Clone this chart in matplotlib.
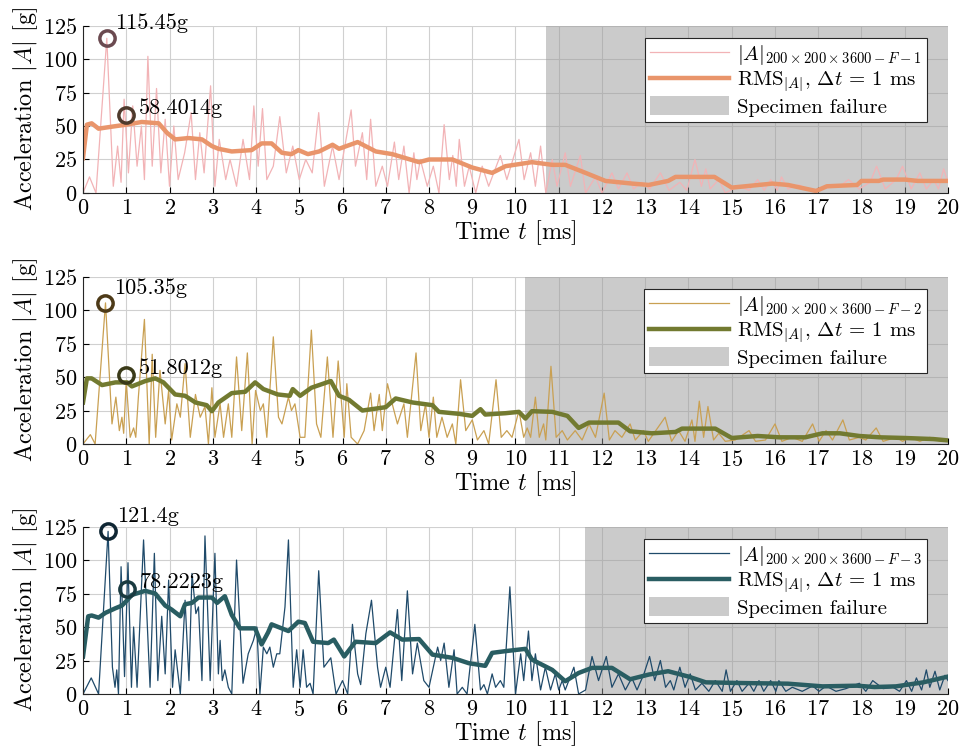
import numpy as np
import matplotlib
matplotlib.use("Agg")
import matplotlib.pyplot as plt
from matplotlib.patches import Patch
from matplotlib.lines import Line2D

plt.rcParams['font.family'] = 'serif'
plt.rcParams['font.serif'] = ['cmr10']
plt.rcParams['mathtext.fontset'] = 'cm'
plt.rcParams['axes.formatter.use_mathtext'] = True

# (t [ms], |A| [g])
raw1 = np.array([
    (0, 0), (0.15, 12), (0.3, 0), (0.55, 115.45), (0.7, 5), (0.8, 35), (0.88, 8), (0.95, 70), (1.05, 15),
    (1.15, 65), (1.25, 20), (1.35, 50), (1.42, 10), (1.5, 102), (1.6, 20), (1.7, 78), (1.8, 15), (1.9, 55),
    (2.0, 5), (2.1, 50), (2.2, 10), (2.35, 30), (2.5, 60), (2.6, 10), (2.7, 45), (2.8, 15), (2.95, 80),
    (3.05, 5), (3.15, 40), (3.3, 10), (3.4, 25), (3.55, 5), (3.7, 40), (3.85, 10), (3.95, 65), (4.05, 20),
    (4.15, 63), (4.25, 10), (4.4, 20), (4.55, 57), (4.7, 15), (4.85, 35), (5.0, 10), (5.15, 25), (5.3, 15),
    (5.45, 60), (5.58, 5), (5.77, 35), (5.92, 10), (6.2, 62), (6.3, 20), (6.46, 45), (6.56, 10), (6.65, 55),
    (6.77, 5), (6.92, 20), (7.04, 5), (7.2, 38), (7.3, 10), (7.42, 35), (7.54, 0), (7.65, 30), (7.72, 10),
    (7.8, 25), (7.96, 5), (8.1, 20), (8.23, 0), (8.35, 51), (8.47, 10), (8.55, 28), (8.63, 5), (8.7, 40),
    (8.82, 5), (8.93, 20), (9.08, 0), (9.23, 20), (9.38, 5), (9.65, 28), (9.8, 10), (10.08, 40), (10.2, 10),
    (10.35, 30), (10.46, 5), (10.58, 35), (10.7, 0), (10.85, 25), (10.96, 5), (11.15, 30), (11.27, 5),
    (11.5, 28), (11.62, 0), (11.85, 12), (12.0, 0), (12.23, 15), (12.38, 3), (12.58, 15), (12.73, 3),
    (12.92, 8), (13.1, 3), (13.35, 15), (13.55, 2), (13.8, 8), (13.96, 2), (14.15, 25), (14.3, 5),
    (14.4, 18), (14.5, 3), (14.7, 10), (14.85, 0), (15.15, 5), (15.4, 2), (15.6, 10), (15.75, 2), (15.9, 10),
    (16.05, 2), (16.15, 12), (16.3, 3), (16.55, 6), (16.85, 2), (17.0, 3), (17.5, 5), (17.7, 10), (17.95, 3),
    (18.2, 8), (18.35, 20), (18.55, 3), (18.8, 10), (18.95, 20), (19.15, 3), (19.35, 15), (19.5, 3),
    (19.67, 10), (19.78, 3), (19.9, 18), (20.0, 8)])
rms1 = np.array([
    (0, 26), (0.09, 51), (0.2, 52), (0.36, 48), (0.67, 49.5), (1.0, 51), (1.36, 53), (1.75, 52), (1.94, 45),
    (2.13, 40), (2.44, 41), (2.75, 40), (2.98, 35), (3.13, 33), (3.44, 31), (3.9, 32), (4.13, 37), (4.36, 37),
    (4.6, 30), (4.82, 29), (4.98, 32), (5.2, 29), (5.46, 31), (5.77, 36), (5.92, 33), (6.35, 38), (6.77, 31),
    (7.15, 29), (7.77, 23), (8.0, 25), (8.54, 25), (9.0, 19), (9.46, 15), (9.77, 20), (10.38, 23),
    (10.85, 21), (11.15, 21), (11.62, 15), (12.08, 9), (12.7, 7), (13.08, 6), (13.53, 9), (13.7, 12),
    (14.6, 12), (15.0, 4), (15.94, 7), (16.3, 6), (16.95, 1.5), (17.2, 5), (17.9, 6), (18.0, 9), (18.4, 9),
    (18.5, 10), (19.0, 10), (19.3, 9), (20.0, 9)])

raw2 = np.array([
    (0, 0), (0.17, 7), (0.28, 0), (0.52, 105.35), (0.67, 15), (0.76, 35), (0.84, 10), (0.9, 20), (0.94, 8),
    (1.0, 47), (1.09, 5), (1.17, 12), (1.22, 5), (1.28, 35), (1.42, 93), (1.53, 0), (1.6, 67), (1.68, 5),
    (1.78, 55), (1.9, 15), (1.98, 40), (2.05, 3), (2.17, 30), (2.25, 20), (2.36, 60), (2.48, 5), (2.6, 37),
    (2.71, 20), (2.82, 28), (2.9, 0), (2.98, 42), (3.05, 5), (3.17, 30), (3.25, 5), (3.36, 30), (3.44, 5),
    (3.55, 65), (3.67, 10), (3.8, 68), (3.91, 0), (3.99, 40), (4.1, 25), (4.17, 30), (4.25, 5), (4.4, 80),
    (4.52, 20), (4.6, 15), (4.75, 35), (4.82, 25), (4.9, 30), (5.02, 5), (5.13, 5), (5.28, 85), (5.4, 15),
    (5.5, 5), (5.65, 65), (5.78, 5), (5.9, 62), (6.04, 5), (6.1, 45), (6.2, 5), (6.35, 0), (6.5, 10),
    (6.65, 38), (6.73, 10), (6.85, 37), (6.92, 10), (7.04, 45), (7.15, 30), (7.27, 15), (7.42, 30), (7.5, 5),
    (7.7, 68), (7.81, 10), (7.92, 30), (8.0, 5), (8.1, 35), (8.18, 5), (8.3, 20), (8.42, 5), (8.54, 15),
    (8.62, 0), (8.73, 48), (8.85, 10), (9.0, 18), (9.12, 3), (9.27, 10), (9.38, 0), (9.55, 48), (9.67, 5),
    (9.8, 10), (9.92, 5), (10.08, 25), (10.19, 5), (10.27, 12), (10.35, 5), (10.46, 35), (10.55, 5),
    (10.65, 15), (10.7, 3), (10.82, 58), (10.94, 5), (11.08, 10), (11.2, 3), (11.38, 10), (11.54, 3),
    (11.7, 15), (11.85, 5), (12.05, 38), (12.17, 3), (12.3, 10), (12.46, 5), (12.65, 15), (12.77, 3),
    (12.96, 10), (13.07, 2), (13.46, 20), (13.61, 2), (13.77, 10), (13.92, 2), (14.08, 18), (14.15, 2),
    (14.25, 32), (14.35, 5), (14.45, 28), (14.58, 3), (14.7, 8), (14.85, 2), (15.08, 3), (15.4, 10),
    (15.55, 2), (15.78, 3), (16.0, 15), (16.16, 2), (16.4, 5), (16.63, 2), (16.87, 15), (17.02, 2),
    (17.18, 10), (17.33, 3), (17.57, 18), (17.72, 3), (17.95, 5), (18.1, 3), (18.34, 12), (18.5, 2),
    (18.8, 5), (18.95, 2), (19.12, 5), (19.35, 2), (19.58, 5), (19.82, 2), (20.0, 3)])
rms2 = np.array([
    (0, 31), (0.09, 49), (0.2, 49), (0.44, 44), (0.75, 46), (1.02, 46), (1.13, 43), (1.44, 47), (1.67, 49),
    (1.86, 46), (2.13, 37), (2.36, 36), (2.6, 31), (2.86, 29), (2.98, 24.5), (3.13, 31), (3.44, 38),
    (3.75, 39), (3.98, 46), (4.17, 41), (4.5, 37), (4.78, 36), (4.85, 41), (5.02, 36), (5.28, 42),
    (5.46, 44), (5.73, 47), (5.92, 36), (6.15, 33), (6.46, 25), (7.0, 27.5), (7.23, 34), (7.62, 31),
    (8.08, 29), (8.23, 24), (8.7, 22.5), (9.0, 21), (9.19, 26), (9.3, 22), (9.77, 23), (10.08, 24),
    (10.23, 19), (10.38, 24.5), (10.85, 24), (11.2, 21), (11.46, 12), (11.7, 16), (12.38, 16), (12.65, 9.5),
    (13.15, 8), (13.7, 9), (13.85, 11.5), (14.62, 11.5), (15.0, 4.5), (15.6, 6), (16.1, 5), (16.7, 5),
    (17.1, 8), (17.5, 8), (17.95, 6), (18.42, 5), (19.0, 4.5), (19.66, 3.7), (20.0, 2.7)])

raw3 = np.array([
    (0, 0), (0.19, 12), (0.36, 0), (0.58, 121.4), (0.68, 20), (0.74, 5), (0.78, 18), (0.82, 0), (0.88, 95),
    (0.96, 13), (1.04, 98), (1.12, 5), (1.17, 50), (1.25, 5), (1.4, 115), (1.55, 5), (1.65, 105), (1.73, 10),
    (1.82, 58), (1.9, 15), (1.98, 85), (2.07, 5), (2.13, 33), (2.25, 0), (2.36, 70), (2.45, 10), (2.52, 90),
    (2.61, 60), (2.67, 65), (2.75, 10), (2.82, 118), (2.94, 10), (3.05, 105), (3.13, 15), (3.17, 40),
    (3.22, 10), (3.28, 18), (3.36, 5), (3.44, 0), (3.55, 100), (3.7, 8), (3.82, 30), (3.94, 40), (4.02, 50),
    (4.09, 0), (4.17, 35), (4.25, 30), (4.32, 35), (4.4, 20), (4.48, 30), (4.55, 30), (4.67, 65),
    (4.75, 115), (4.86, 5), (4.94, 33), (5.02, 5), (5.09, 33), (5.17, 5), (5.25, 8), (5.32, 0), (5.45, 92),
    (5.57, 20), (5.73, 27), (5.85, 0), (6.0, 10), (6.12, 0), (6.23, 52), (6.35, 15), (6.42, 7), (6.54, 45),
    (6.67, 70), (6.81, 20), (6.88, 5), (7.0, 20), (7.1, 5), (7.27, 63), (7.37, 10), (7.5, 77), (7.62, 15),
    (7.73, 38), (7.88, 10), (8.0, 5), (8.2, 35), (8.27, 25), (8.35, 38), (8.46, 5), (8.58, 33), (8.65, 0),
    (8.77, 5), (8.88, 0), (9.06, 52), (9.19, 3), (9.27, 7), (9.35, 0), (9.46, 15), (9.54, 5), (9.65, 10),
    (9.73, 5), (9.87, 80), (10.0, 0), (10.12, 30), (10.19, 10), (10.3, 47), (10.38, 10), (10.46, 30),
    (10.58, 3), (10.69, 20), (10.81, 3), (10.92, 15), (11.0, 3), (11.08, 10), (11.15, 3), (11.35, 20),
    (11.46, 0), (11.62, 3), (11.77, 28), (11.92, 10), (12.1, 28), (12.23, 5), (12.38, 15), (12.54, 3),
    (12.69, 12), (12.81, 3), (12.97, 15), (13.1, 28), (13.22, 10), (13.35, 25), (13.47, 5), (13.58, 10),
    (13.66, 3), (13.8, 20), (13.92, 5), (14.04, 15), (14.16, 3), (14.31, 8), (14.47, 2), (14.62, 10),
    (14.78, 2), (14.87, 18), (14.97, 2), (15.12, 10), (15.24, 2), (15.4, 8), (15.51, 2), (15.63, 10),
    (15.74, 2), (15.9, 10), (16.02, 2), (16.09, 10), (16.25, 2), (16.4, 5), (16.63, 2), (16.87, 6),
    (17.02, 2), (17.18, 6), (17.41, 2), (17.64, 4), (17.95, 8), (18.1, 2), (18.26, 10), (18.5, 4),
    (18.73, 5), (18.88, 2), (19.04, 10), (19.16, 2), (19.27, 12), (19.39, 3), (19.5, 18), (19.58, 5),
    (19.7, 17), (19.81, 3), (19.93, 14), (20.0, 10)])
rms3 = np.array([
    (0, 28), (0.12, 58), (0.2, 58.6), (0.36, 57), (0.52, 60.6), (0.75, 64), (0.9, 66), (1.02, 70),
    (1.13, 74), (1.44, 77), (1.67, 75), (1.9, 66), (2.05, 63), (2.25, 58), (2.36, 67), (2.52, 68),
    (2.67, 72), (2.98, 72), (3.1, 68), (3.28, 73), (3.44, 59), (3.63, 49), (3.98, 49), (4.13, 37),
    (4.28, 46), (4.36, 52), (4.75, 47), (4.98, 54), (5.13, 53), (5.32, 39), (5.67, 38), (5.8, 40.6),
    (6.04, 28), (6.3, 39), (6.77, 38), (7.1, 46), (7.38, 40.6), (7.77, 41), (8.08, 29.4), (8.54, 27),
    (8.92, 23), (9.3, 21), (9.46, 30.7), (9.77, 32), (10.23, 33.7), (10.38, 25.7), (10.85, 18),
    (11.15, 9.5), (11.46, 15.7), (11.77, 19.5), (12.23, 19.5), (12.65, 11), (13.08, 14.5), (13.53, 17),
    (14.0, 13), (14.4, 8.7), (15.2, 8.2), (16.3, 7.7), (17.1, 5.7), (17.9, 6.2), (18.3, 5.2), (18.8, 5.7),
    (19.43, 8.7), (20.0, 13)])

fail_start = [10.71, 10.22, 11.61]
peak_t = [0.55, 0.52, 0.58]
peak_val = [115.45, 105.35, 121.4]
rms_t = [1.0, 1.0, 1.02]
rms_max = [58.4014, 51.8012, 78.2223]
specimens = ['1', '2', '3']

raw_colors = ['#f2b3b6', '#c9a052', '#1f4a6a']
rms_colors = ['#e9956b', '#727a30', '#295d62']
peak_circ = ['#6b4a50', '#4d3a18', '#0f2633']
rms_circ = ['#4e3a2c', '#3a3a18', '#1a3a40']

raws = [raw1, raw2, raw3]
rmss = [rms1, rms2, rms3]

fig = plt.figure(figsize=(9.63, 7.55), dpi=100)
bottoms = [0.7444, 0.4119, 0.0808]

for i in range(3):
    ax = fig.add_axes([0.0862, bottoms[i], 0.8982, 0.2218])
    raw = raws[i]
    rms = rmss[i]
    ax.plot(raw[:, 0], raw[:, 1], color=raw_colors[i], lw=0.9, solid_joinstyle='round')
    ax.plot(rms[:, 0], rms[:, 1], color=rms_colors[i], lw=3.2, solid_joinstyle='round')
    ax.axvspan(fail_start[i], 20, color='#999999', alpha=0.5, lw=0)

    ax.plot(peak_t[i], peak_val[i], 'o', ms=11, mfc='none', mec=peak_circ[i], mew=2.5, clip_on=False)
    ax.plot(rms_t[i], rms_max[i], 'o', ms=11, mfc='none', mec=rms_circ[i], mew=2.5, clip_on=False)
    ax.text(peak_t[i] + 0.2, peak_val[i] + 11, f'{peak_val[i]:g}g', fontsize=16,
            va='center', ha='left')
    ax.text(rms_t[i] + 0.3, rms_max[i] + 5, f'{rms_max[i]:g}g', fontsize=16,
            va='center', ha='left')

    ax.set_xlim(0, 20)
    ax.set_ylim(0, 125)
    ax.set_xticks(np.arange(0, 21, 1))
    ax.set_yticks(np.arange(0, 126, 25))
    ax.tick_params(direction='in', labelsize=16, length=4, pad=4)
    ax.grid(True, color='#d0d0d0', lw=0.8)
    ax.set_axisbelow(True)
    for s in ['top', 'right']:
        ax.spines[s].set_visible(False)
    for s in ['left', 'bottom']:
        ax.spines[s].set_color('#262626')
    ax.set_xlabel('Time $t$ [ms]', fontsize=17.5, labelpad=0)
    ax.set_ylabel('Acceleration $|A|$ [g]', fontsize=17.5, labelpad=2)

    handles = [Line2D([], [], color=raw_colors[i], lw=0.9),
               Line2D([], [], color=rms_colors[i], lw=3.2),
               Patch(facecolor='#999999', alpha=0.5, lw=0)]
    labels = [r'$|A|_{200\times200\times3600-F-' + specimens[i] + '}$',
              r'RMS$_{|A|}$, $\Delta t$ = 1 ms',
              'Specimen failure']
    leg = ax.legend(handles, labels, loc='upper right', bbox_to_anchor=(0.9757, 0.925),
                    borderaxespad=0, fontsize=15, frameon=True, fancybox=False,
                    edgecolor='#262626', framealpha=1, handlelength=3.8, handleheight=1.0,
                    labelspacing=0.1, borderpad=0.25, handletextpad=0.4)
    leg.get_frame().set_linewidth(0.8)

fig.savefig('out.png', dpi=100)
